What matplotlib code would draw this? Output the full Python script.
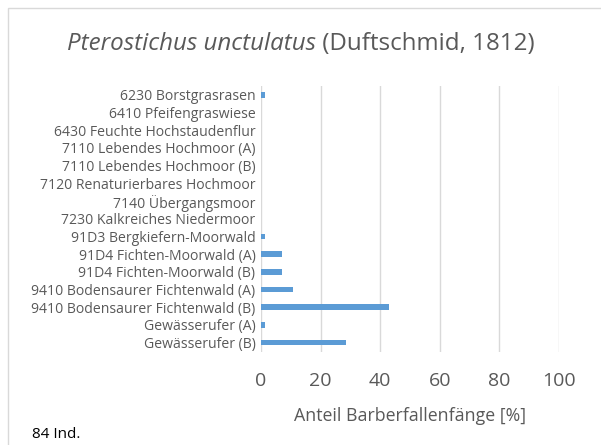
import matplotlib.pyplot as plt
from matplotlib.patches import Rectangle

categories = [
    "6230 Borstgrasrasen",
    "6410 Pfeifengraswiese",
    "6430 Feuchte Hochstaudenflur",
    "7110 Lebendes Hochmoor (A)",
    "7110 Lebendes Hochmoor (B)",
    "7120 Renaturierbares Hochmoor",
    "7140 Übergangsmoor",
    "7230 Kalkreiches Niedermoor",
    "91D3 Bergkiefern-Moorwald",
    "91D4 Fichten-Moorwald (A)",
    "91D4 Fichten-Moorwald (B)",
    "9410 Bodensaurer Fichtenwald (A)",
    "9410 Bodensaurer Fichtenwald (B)",
    "Gewässerufer (A)",
    "Gewässerufer (B)",
]
# individuals per habitat (84 total), shown as percent
counts = [1, 0, 0, 0, 0, 0, 0, 0, 1, 6, 6, 9, 36, 1, 24]
total = 84
share = [100 * c / total for c in counts]
xticks = [0, 20, 40, 60, 80, 100]

W, H = 601, 445
fig = plt.figure(figsize=(W / 100, H / 100), dpi=100)
plt.rcParams["font.family"] = ["Open Sans", "DejaVu Sans"]
grey = "#595959"

# chart frame
fig.patches.append(Rectangle((8 / W, -0.1), 1.2, 1 - 8 / H + 0.1, transform=fig.transFigure,
                             fill=False, edgecolor="#d9d9d9", linewidth=1.0))

ax = fig.add_axes([261 / W, 1 - 351.5 / H, (559 - 261) / W, (351.5 - 86) / H])
y = list(range(len(categories)))
ax.barh(y, share, height=0.32, color="#5b9bd5")
ax.set_ylim(len(categories) - 0.5, -0.5)
ax.set_xlim(0, 100)
ax.set_xticks(xticks)
ax.set_xticklabels([str(t) for t in xticks], fontsize=14, color=grey)
ax.set_yticks(y)
ax.set_yticklabels(categories, fontsize=10.1, color=grey)
ax.tick_params(length=0, pad=4)
ax.tick_params(axis="x", pad=15)
ax.grid(axis="x", color="#d9d9d9", linewidth=1.0)
ax.set_axisbelow(True)
for s in ax.spines.values():
    s.set_visible(False)
ax.set_xlabel("Anteil Barberfallenfänge [%]", fontsize=12.8, color=grey, labelpad=12)

# title: italic species name + normal author
t1 = fig.text(0, 1 - 44 / H, "Pterostichus unctulatus", fontsize=17.4, style="italic",
              color=grey, va="center", ha="left")
t2 = fig.text(0, 1 - 44 / H, " (Duftschmid, 1812)", fontsize=17.4, color=grey,
              va="center", ha="left")
fig.canvas.draw()
r = fig.canvas.get_renderer()
w1 = t1.get_window_extent(r).width
w2 = t2.get_window_extent(r).width
x0 = 301 - (w1 + w2) / 2
t1.set_x(x0 / W)
t2.set_x((x0 + w1) / W)

fig.text(32 / W, 1 - 434 / H, "84 Ind.", fontsize=11, color="black", va="center", ha="left")

fig.savefig("out.png", dpi=100)
